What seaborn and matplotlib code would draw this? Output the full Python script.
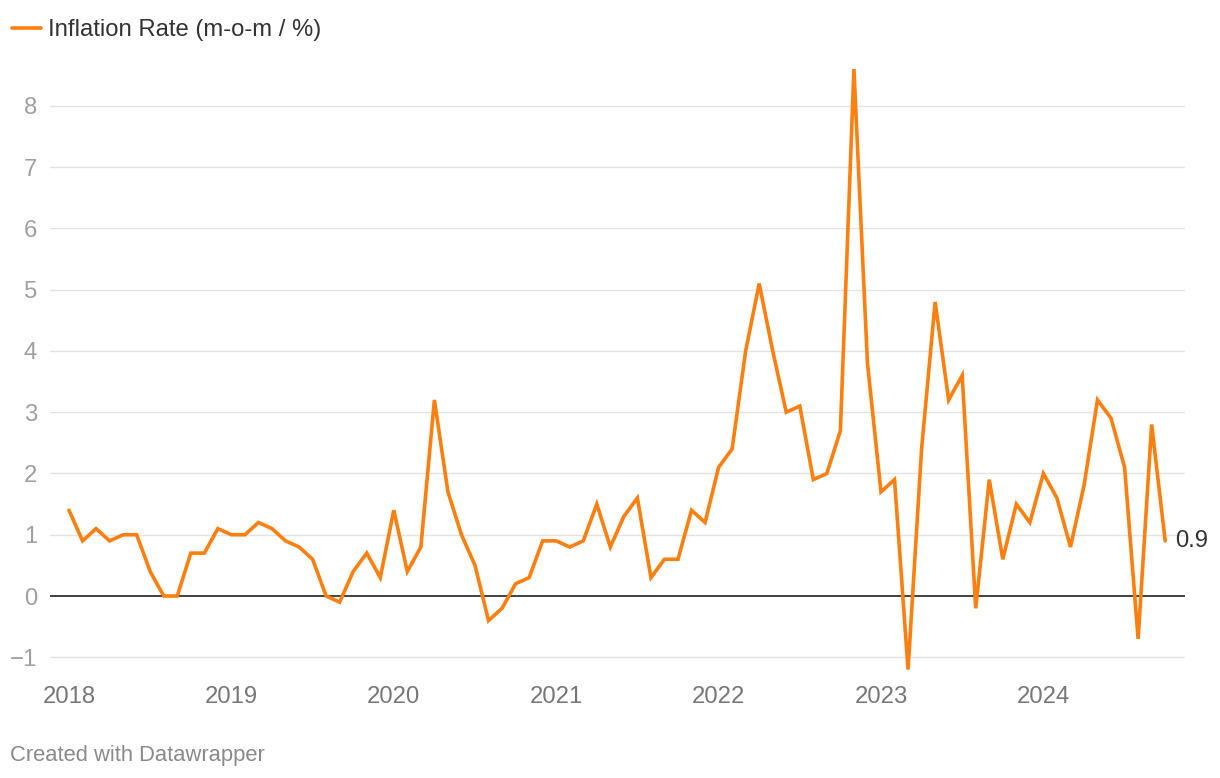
import numpy as np
import pandas as pd
import matplotlib
matplotlib.use("Agg")
import matplotlib.pyplot as plt
import seaborn as sns

# ---- data (monthly, Jan 2018 - Oct 2024) ----
start_year = 2018
values_2018 = [1.4, 0.9, 1.1, 0.9, 1.0, 1.0, 0.4, 0.0, 0.0, 0.7, 0.7, 1.1]
values_2019 = [1.0, 1.0, 1.2, 1.1, 0.9, 0.8, 0.6, 0.0, -0.1, 0.4, 0.7, 0.3]
values_2020 = [1.4, 0.4, 0.8, 3.2, 1.7, 1.0, 0.5, -0.4, -0.2, 0.2, 0.3, 0.9]
values_2021 = [0.9, 0.8, 0.9, 1.5, 0.8, 1.3, 1.6, 0.3, 0.6, 0.6, 1.4, 1.2]
values_2022 = [2.1, 2.4, 4.0, 5.1, 4.0, 3.0, 3.1, 1.9, 2.0, 2.7, 8.6, 3.8]
values_2023 = [1.7, 1.9, -1.2, 2.4, 4.8, 3.2, 3.6, -0.2, 1.9, 0.6, 1.5, 1.2]
values_2024 = [2.0, 1.6, 0.8, 1.8, 3.2, 2.9, 2.1, -0.7, 2.8, 0.9]
series_label = "Inflation Rate (m-o-m / %)"
year_ticks = [2018, 2019, 2020, 2021, 2022, 2023, 2024]
y_ticks = [-1, 0, 1, 2, 3, 4, 5, 6, 7, 8]
credit = "Created with Datawrapper"

values = values_2018 + values_2019 + values_2020 + values_2021 + values_2022 + values_2023 + values_2024
t = start_year + np.arange(len(values)) / 12.0
df = pd.DataFrame({"t": t, "v": values})

sns.set_theme(style="white")
plt.rcParams["font.family"] = ["Liberation Sans", "DejaVu Sans"]

W, H = 1220, 778
fig = plt.figure(figsize=(W / 100, H / 100), dpi=100)
# axes placement in pixels
ax_left, ax_right, ax_top, ax_bottom = 50, 1185, 63, 672.6
ax = fig.add_axes([ax_left / W, 1 - ax_bottom / H, (ax_right - ax_left) / W, (ax_bottom - ax_top) / H])

orange = "#fd7f0f"
sns.lineplot(data=df, x="t", y="v", ax=ax, color=orange, linewidth=2.3,
             label=series_label, legend=False, solid_joinstyle="miter")

ax.set_xlim(2017.883, 2024.872)
ax.set_ylim(-1.25, 8.7)
ax.set_yticks(y_ticks)
ax.set_yticklabels([("\u2212" + str(abs(v))) if v < 0 else str(v) for v in y_ticks])
ax.set_xticks(year_ticks)
ax.set_xticklabels([str(y) for y in year_ticks])

for v in y_ticks:
    if v == 0:
        continue
    ax.axhline(v, color="#e3e3e3", linewidth=1.0, zorder=0)
ax.axhline(0, color="#333333", linewidth=1.3, zorder=1)

for s in ax.spines.values():
    s.set_visible(False)
ax.set_xlabel("")
ax.set_ylabel("")
fs = 17.2
ax.tick_params(axis="y", length=0, pad=9.3, labelsize=fs, labelcolor="#a0a0a0")
ax.tick_params(axis="x", length=0, pad=10, labelsize=fs, labelcolor="#777777")
ax.patch.set_alpha(0)

# end label
ax.annotate(f"{values[-1]:g}", xy=(t[-1], values[-1]), xytext=(7.5, 0), textcoords="offset points",
            ha="left", va="center", fontsize=fs, color="#333333")

# legend
handles, labels = ax.get_legend_handles_labels()
for h in handles:
    h.set_linewidth(2.6)
leg = fig.legend(handles, labels, loc="center left", bbox_to_anchor=(12 / W, 1 - 30 / H),
                 frameon=False, handlelength=1.2, handletextpad=0.29, borderpad=0,
                 borderaxespad=0, fontsize=fs, labelcolor="#333333")

fig.text(10 / W, 1 - 756 / H, credit, ha="left", va="center", fontsize=15.8, color="#8a8a8a")

fig.savefig("out.png", dpi=100, facecolor="white")
